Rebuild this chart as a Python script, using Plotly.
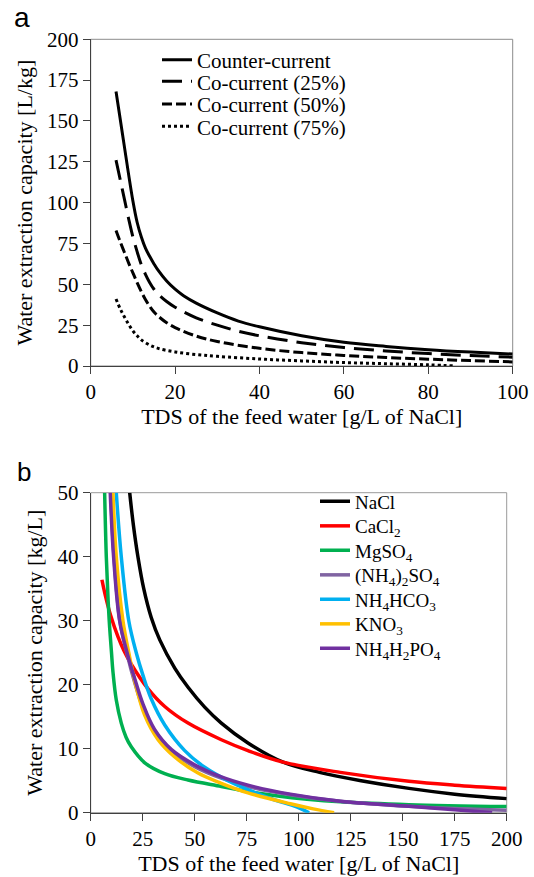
import plotly.graph_objects as go

# ---------------- Panel a data ----------------
a_counter_x = [6, 7, 8, 9, 10, 11, 12, 13, 14, 15, 16, 18, 20, 22, 25, 30, 35, 40, 50, 60, 70, 80, 90, 100]
a_counter_y = [168, 151, 134, 117, 101, 88, 79, 72, 67, 62.5, 58.5, 52, 47, 43, 38.5, 32.5, 27.5, 24, 18.5, 14.5, 12, 10, 8.5, 7.3]

a_co25_x = [6, 7, 8, 9, 10, 11, 12, 13, 14, 15, 16, 18, 20, 25, 30, 35, 40, 50, 60, 70, 80, 90, 100]
a_co25_y = [126, 114, 102, 90, 79, 70, 62, 56, 51, 47, 44, 39.5, 36, 29.5, 25, 21.3, 18.5, 14.3, 11.3, 9.2, 7.6, 6.4, 5.4]

a_co50_x = [6, 7, 8, 9, 10, 11, 12, 13, 14, 15, 16, 18, 20, 25, 30, 40, 50, 60, 70, 80, 90, 100]
a_co50_y = [83, 76, 69.5, 63, 57, 51, 45.5, 40.5, 36.5, 33, 30.5, 26.5, 23.5, 18.3, 15, 10.8, 8.2, 6.5, 5.2, 4.2, 3.3, 2.5]

a_co75_x = [6, 7, 8, 9, 10, 11, 12, 14, 16, 20, 25, 30, 40, 50, 60, 70, 80, 86.5]
a_co75_y = [41, 35, 30, 25.5, 21.5, 18.5, 16, 12.8, 10.8, 8.6, 7, 5.9, 4.3, 3.1, 2.1, 1.4, 0.7, 0]

a_names = ["Counter-current", "Co-current (25%)", "Co-current (50%)", "Co-current (75%)"]
a_dashes = ["solid", "20px,9px", "10px,4px", "3px,3px"]

# ---------------- Panel b data ----------------
b_nacl_x = [18.75, 20.5, 22.7, 25.5, 29.1, 33.2, 40.4, 46.8, 54.8, 62.8, 75.6, 92.5, 110, 130, 153, 175, 200]
b_nacl_y = [50, 45, 40, 35, 30.5, 27, 22.6, 19.6, 16.5, 14, 10.9, 7.9, 6.3, 5.0, 3.8, 2.9, 2.2]

b_cacl2_x = [5.4, 7, 9.6, 13.1, 16, 19.5, 27.5, 35.6, 46.8, 62.8, 75.6, 92.5, 120, 153, 175, 200]
b_cacl2_y = [36.4, 34, 30.8, 27.5, 25.3, 23.2, 19.4, 16.6, 14, 11.4, 9.7, 7.9, 6.3, 4.9, 4.3, 3.8]

b_mgso4_x = [6.7, 7.5, 8.4, 9.1, 10.0, 10.7, 12.3, 14.7, 17, 19.5, 26, 35.6, 46.8, 62.8, 75.6, 90, 104, 120, 153, 200]
b_mgso4_y = [50, 40, 33, 29, 25, 22, 17.6, 14, 11.8, 10.3, 7.8, 6.1, 5.1, 4.1, 3.3, 2.6, 2.1, 1.7, 1.25, 0.95]

b_nh42so4_x = [9.6, 11.2, 14, 17.5, 21, 25, 30.7, 38.7, 50, 62.8, 75.6, 96, 120, 153, 175, 200]
b_nh42so4_y = [50, 40, 30, 24.8, 20.5, 16.5, 12.7, 9.6, 7.2, 5.4, 4.1, 2.8, 1.8, 1.0, 0.65, 0.4]

b_nh4hco3_x = [12.3, 14.7, 18.3, 21.9, 25.1, 29.1, 35.6, 45.2, 54.8, 66, 75.6, 87.5, 99, 105]
b_nh4hco3_y = [50, 40, 30, 25, 21.5, 17.8, 13.7, 9.7, 7.1, 5.0, 3.6, 2.1, 0.9, 0]

b_kno3_x = [10.7, 12.3, 15.5, 18.3, 21.1, 26, 32.4, 40.4, 51.6, 62.8, 75.6, 96, 107, 117]
b_kno3_y = [50, 40, 30, 25, 20.7, 15.2, 11.4, 8.7, 6.2, 4.6, 3.1, 1.4, 0.6, 0]

b_nh4h2po4_x = [9.4, 11, 13.9, 17.5, 21.1, 25.1, 30.7, 38.7, 49.9, 62.8, 75.6, 96, 120, 153, 175, 193]
b_nh4h2po4_y = [50, 40, 30, 25, 21, 17, 13, 9.9, 7.5, 5.6, 4.3, 2.9, 1.8, 1.0, 0.45, 0]

b_names = ["NaCl", "CaCl<sub>2</sub>", "MgSO<sub>4</sub>", "(NH<sub>4</sub>)<sub>2</sub>SO<sub>4</sub>",
           "NH<sub>4</sub>HCO<sub>3</sub>", "KNO<sub>3</sub>", "NH<sub>4</sub>H<sub>2</sub>PO<sub>4</sub>"]
b_colors = ["#000000", "#ff0000", "#00b050", "#8064a2", "#00b0f0", "#ffc000", "#7030a0"]

a_xticks = [0, 20, 40, 60, 80, 100]
a_yticks = [0, 25, 50, 75, 100, 125, 150, 175, 200]
b_xticks = [0, 25, 50, 75, 100, 125, 150, 175, 200]
b_yticks = [0, 10, 20, 30, 40, 50]

SERIF = "Liberation Serif, Times New Roman, serif"
W, H = 534, 877

# legend row centres (px from top) and left edges
a_leg_rows = [60, 81.7, 104.3, 126.7]
b_leg_rows = [501.5, 526, 550.5, 575, 599.5, 624, 648.5]
a_leg_x, b_leg_x = 157, 315

fig = go.Figure()
legends = {}

a_series = [(a_counter_x, a_counter_y), (a_co25_x, a_co25_y), (a_co50_x, a_co50_y), (a_co75_x, a_co75_y)]
for i, ((xs, ys), nm, ds) in enumerate(zip(a_series, a_names, a_dashes)):
    lname = "legend" if i == 0 else f"legend{i + 1}"
    fig.add_trace(go.Scatter(x=xs, y=ys, name=nm, mode="lines", showlegend=True,
                             line=dict(color="black", width=3, dash=ds, shape="spline", smoothing=1.0),
                             xaxis="x", yaxis="y", legend=lname))
    legends[lname] = dict(x=a_leg_x / W, y=1 - a_leg_rows[i] / H, xanchor="left", yanchor="middle",
                          bgcolor="rgba(0,0,0,0)", borderwidth=0,
                          font=dict(family=SERIF, size=21, color="black"))

b_series = [(b_nacl_x, b_nacl_y), (b_cacl2_x, b_cacl2_y), (b_mgso4_x, b_mgso4_y), (b_nh42so4_x, b_nh42so4_y),
            (b_nh4hco3_x, b_nh4hco3_y), (b_kno3_x, b_kno3_y), (b_nh4h2po4_x, b_nh4h2po4_y)]
for j, ((xs, ys), nm, col) in enumerate(zip(b_series, b_names, b_colors)):
    lname = f"legend{j + 5}"
    fig.add_trace(go.Scatter(x=xs, y=ys, name=nm, mode="lines", showlegend=True,
                             line=dict(color=col, width=3.5, shape="spline", smoothing=1.0),
                             xaxis="x2", yaxis="y2", legend=lname))
    legends[lname] = dict(x=b_leg_x / W, y=1 - b_leg_rows[j] / H, xanchor="left", yanchor="middle",
                          bgcolor="rgba(0,0,0,0)", borderwidth=0,
                          font=dict(family=SERIF, size=19, color="black"))

axis_common = dict(showline=True, linecolor="#404040", linewidth=1, mirror=False, automargin=False,
                   ticks="outside", ticklen=7, tickcolor="#404040", showgrid=False, zeroline=False,
                   tickfont=dict(family=SERIF, size=21, color="black"))
title_font = dict(family=SERIF, size=22, color="black")

fig.update_layout(
    width=W, height=H, margin=dict(l=0, r=0, t=0, b=0),
    paper_bgcolor="white", plot_bgcolor="white", showlegend=True,
    font=dict(family=SERIF, size=20, color="black"),
    xaxis=dict(domain=[90.7 / W, 512.7 / W], range=[0, 100], tickvals=a_xticks, anchor="y",
               title=dict(text="TDS of the feed water [g/L of NaCl]", font=title_font, standoff=0),
               **axis_common),
    yaxis=dict(domain=[1 - 366 / H, 1 - 39.3 / H], range=[0, 200], tickvals=a_yticks, anchor="x",
               title=dict(text="Water extraction capacity [L/kg]", font=title_font, standoff=8),
               **axis_common),
    xaxis2=dict(domain=[90.7 / W, 506.7 / W], range=[0, 200], tickvals=b_xticks, anchor="y2",
                title=dict(text="TDS of the feed water [g/L of NaCl]", font=title_font, standoff=0),
                **axis_common),
    yaxis2=dict(domain=[1 - 812.7 / H, 1 - 492.7 / H], range=[0, 50], tickvals=b_yticks, anchor="x2",
                title=dict(text="Water extraction capacity [kg/L]", font=title_font, standoff=8),
                **axis_common),
    annotations=[
        dict(text="a", x=22 / W, y=1, xref="paper", yref="paper", showarrow=False,
             xanchor="center", yanchor="top",
             font=dict(family="Liberation Sans, Arial, sans-serif", size=28, color="black")),
        dict(text="b", x=24 / W, y=1 - 472 / H, xref="paper", yref="paper", showarrow=False,
             xanchor="center", yanchor="middle",
             font=dict(family="Liberation Sans, Arial, sans-serif", size=26, color="black")),
    ],
    shapes=[
        dict(type="rect", xref="x domain", yref="y domain", x0=0, x1=1, y0=0, y1=1,
             line=dict(color="#8c8c8c", width=1), layer="below"),
        dict(type="rect", xref="x2 domain", yref="y2 domain", x0=0, x1=1, y0=0, y1=1,
             line=dict(color="#9a9a9a", width=1), layer="below"),
    ],
    **legends,
)

fig.write_html("out.html")
